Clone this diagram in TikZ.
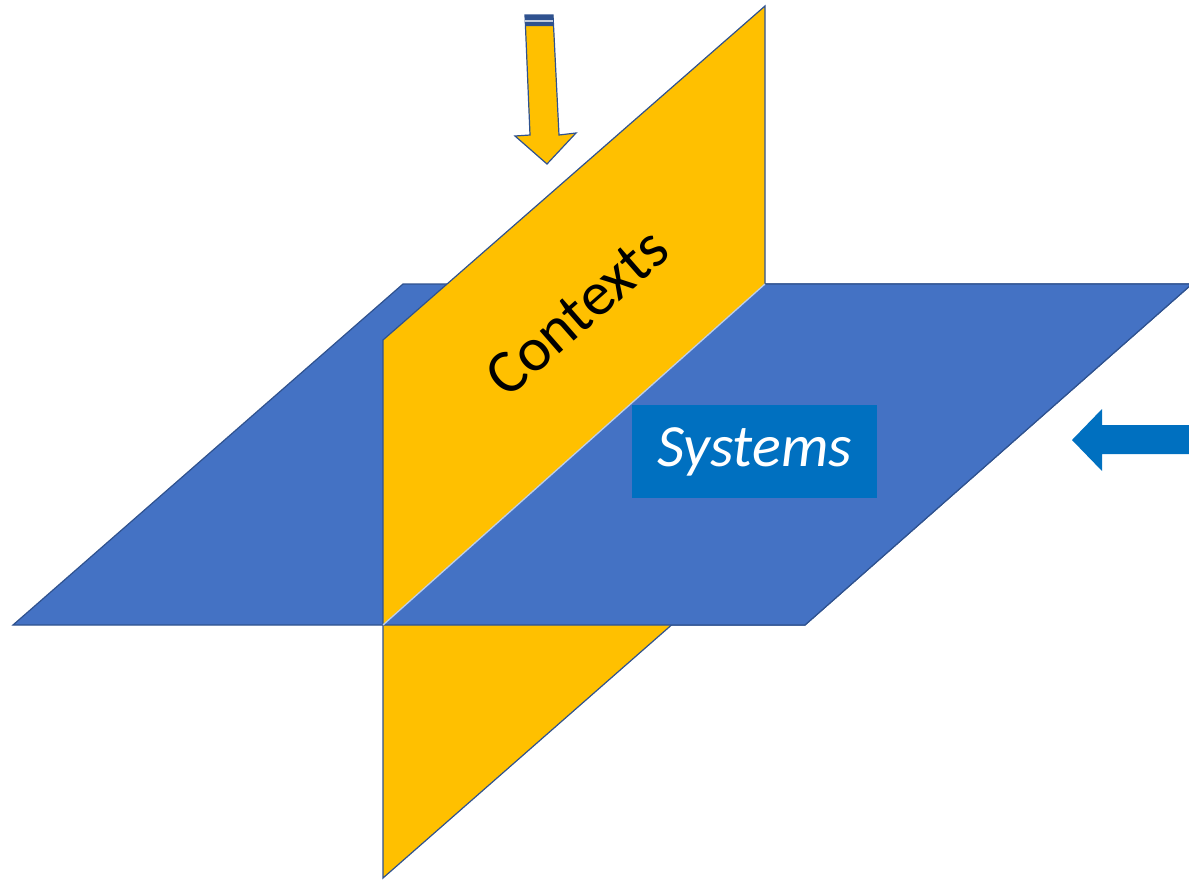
\documentclass[tikz,border=0pt]{standalone}
\usepackage{fontspec}
\setmainfont{Carlito}
\definecolor{cyel}{HTML}{FFC000}
\definecolor{cblu}{HTML}{4472C4}
\definecolor{cedge}{HTML}{2F528F}
\definecolor{cbox}{HTML}{0070C0}
\tikzset{
  plane/.style={draw=cedge, line width=1.2pt, line join=miter},
  edgeline/.style={draw=cedge, line width=1.2pt},
  lbl/.style={inner sep=0pt, font=\fontsize{62}{62}\selectfont},
}
\begin{document}
\begin{tikzpicture}[x=1pt,y=-1pt]
\useasboundingbox (0,0) rectangle (1189,881);
% blue horizontal plane corners
\coordinate (B1) at (403,284);
\coordinate (B2) at (1192,284);
\coordinate (B3) at (805,625);
\coordinate (B4) at (13,625);
% yellow vertical plane corners
\coordinate (Y1) at (383,340);
\coordinate (Y2) at (765,6);
\coordinate (Y3) at (765,543);
\coordinate (Y4) at (383,878);
% intersection
\coordinate (I1) at (383,625);
\coordinate (I2) at (765,284);
% back blue
\filldraw[plane, fill=cblu] (B1) -- (B2) -- (B3) -- (B4) -- cycle;
% yellow
\filldraw[plane, fill=cyel] (Y1) -- (Y2) -- (Y3) -- (Y4) -- cycle;
% front blue
\fill[cblu] (I2) -- (B2) -- (B3) -- (I1) -- cycle;
\draw[edgeline] (I2) -- (B2) -- (B3) -- (I1);
\draw[white!65!cblu, line width=1.3pt] (I1) -- (I2);
% Contexts label
\node[lbl, rotate=41.2, text=black] (ctx) at (577,312) {Contexts};
% Systems label
\node[fill=cbox, text=white, minimum width=245pt, minimum height=93pt, inner sep=0pt,
      font=\fontsize{60}{60}\selectfont\itshape] (sys) at (754.5,451.5) {Systems};
% down arrow (yellow)
\coordinate (A1) at (525,15);
\coordinate (A2) at (553,15);
\coordinate (A3) at (559,135);
\coordinate (A4) at (576,133);
\coordinate (A5) at (547,164);
\coordinate (A6) at (515,136);
\coordinate (A7) at (530,135);
\filldraw[draw=cedge, line width=1.2pt, fill=cyel, line join=miter]
  (A1) -- (A2) -- (A3) -- (A4) -- (A5) -- (A6) -- (A7) -- cycle;
\fill[cedge] (A1) -- (A2) -- (553.5,26) -- (525.5,26) -- cycle;
\draw[white!70!cedge, line width=1.4pt] (525.3,21) -- (553.3,21);
% right arrow (blue)
\coordinate (R1) at (1072,440);
\coordinate (R2) at (1102,409);
\coordinate (R3) at (1102,425);
\coordinate (R4) at (1195,425);
\coordinate (R5) at (1195,454);
\coordinate (R6) at (1102,454);
\coordinate (R7) at (1102,471);
\fill[cbox] (R1) -- (R2) -- (R3) -- (R4) -- (R5) -- (R6) -- (R7) -- cycle;
\end{tikzpicture}
\end{document}
